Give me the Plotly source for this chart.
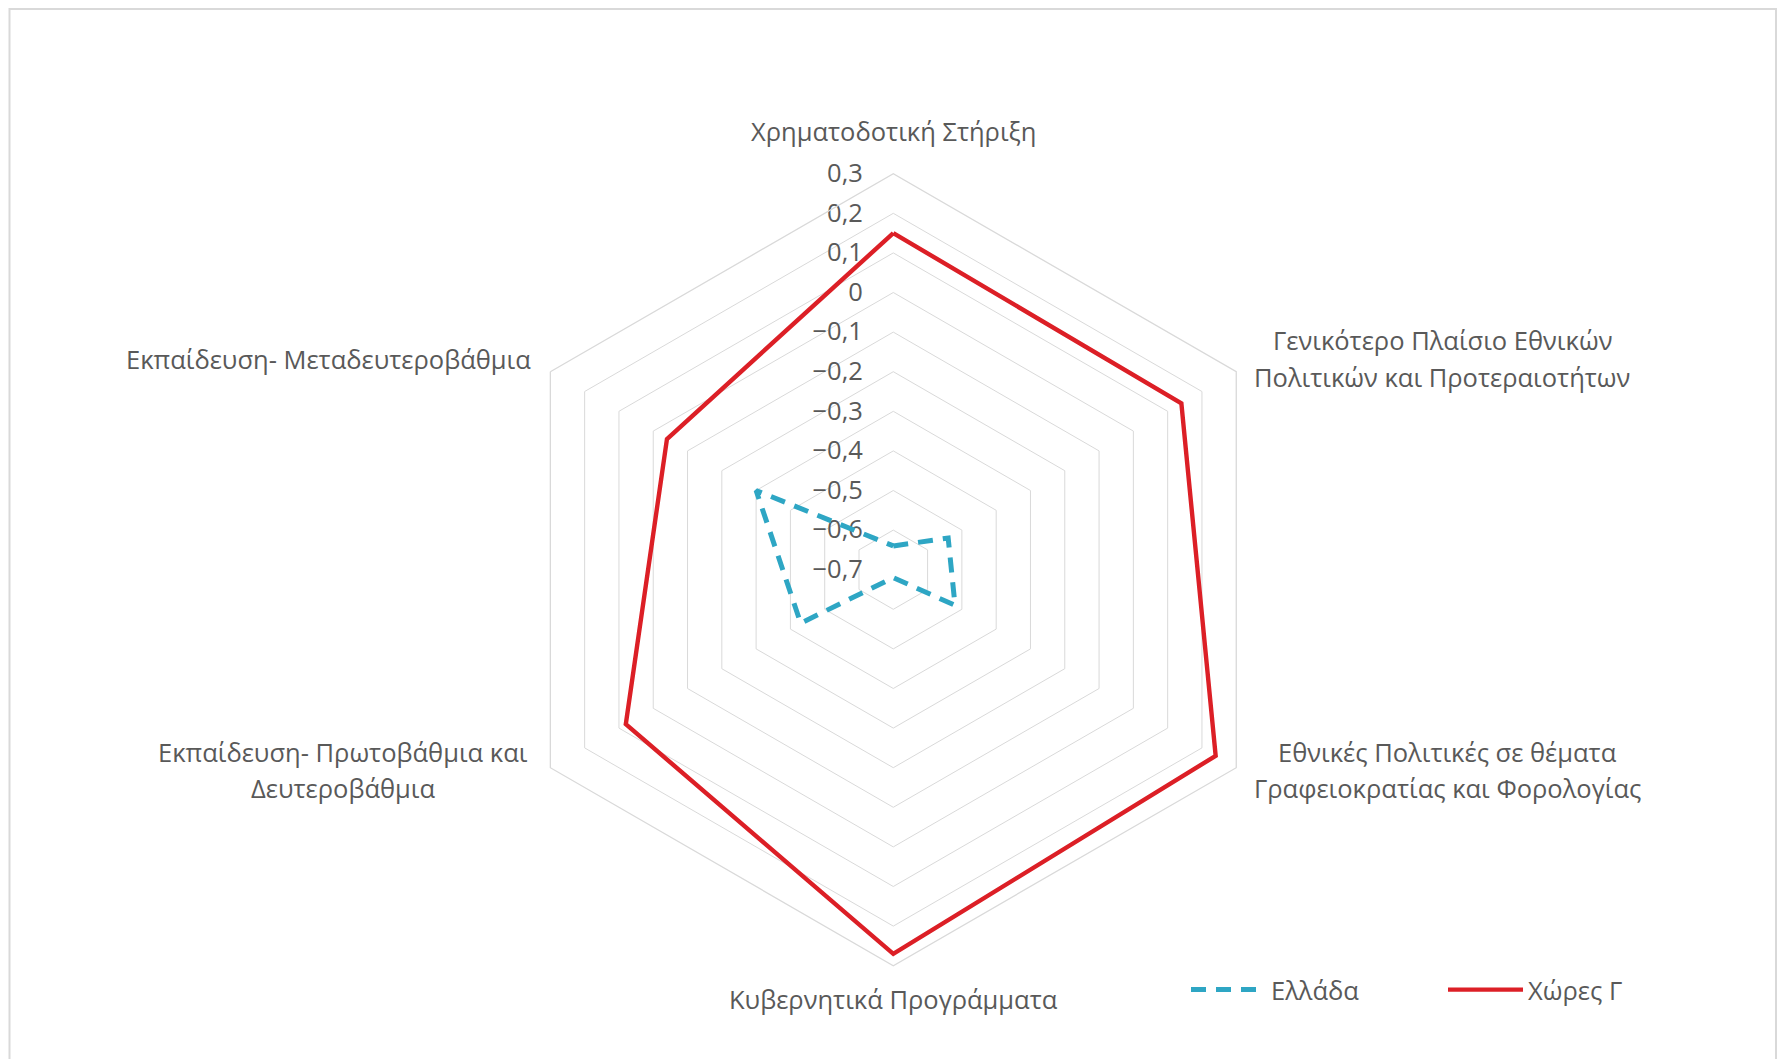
import plotly.graph_objects as go

categories = [
    "Χρηματοδοτική Στήριξη",
    "Γενικότερο Πλαίσιο Εθνικών<br>Πολιτικών και Προτεραιοτήτων",
    "Εθνικές Πολιτικές σε θέματα<br>Γραφειοκρατίας και Φορολογίας",
    "Κυβερνητικά Προγράμματα",
    "Εκπαίδευση- Πρωτοβάθμια και<br>Δευτεροβάθμια",
    "Εκπαίδευση- Μεταδευτεροβάθμια",
]
greece = [-0.64, -0.54, -0.52, -0.68, -0.43, -0.30]
countries_g = [0.15, 0.14, 0.24, 0.27, 0.08, -0.04]
series_names = ["Ελλάδα", "Χώρες Γ"]

# page has an 8px body margin: work in page pixels, convert to figure pixels
OFF = 8
W, H = 1785 - OFF, 1059 - OFF
cx, cy, R = 893.3 - OFF, 569.7 - OFF, 396.0


def px(x):
    return (x - OFF) / W


def py(y):
    return 1 - (y - OFF) / H


FONT = "Open Sans"
TXT = "#595959"
FS = 25.5

fig = go.Figure()
theta = categories + [categories[0]]
fig.add_trace(go.Scatterpolar(
    r=greece + [greece[0]], theta=theta, mode="lines", name=series_names[0],
    line=dict(color="#2ea6c4", width=5, dash="15px,10px"),
))
fig.add_trace(go.Scatterpolar(
    r=countries_g + [countries_g[0]], theta=theta, mode="lines", name=series_names[1],
    line=dict(color="#dc1f26", width=4.4),
))

fig.update_layout(
    width=W, height=H,
    margin=dict(l=0, r=0, t=0, b=0),
    paper_bgcolor="white", plot_bgcolor="white",
    separators=", ",
    font=dict(family=FONT, size=FS, color=TXT),
    polar=dict(
        domain=dict(x=[(cx - R) / W, (cx + R) / W], y=[1 - (cy + R) / H, 1 - (cy - R) / H]),
        bgcolor="white",
        gridshape="linear",
        angularaxis=dict(
            type="category", categoryarray=categories,
            rotation=90, direction="clockwise",
            showticklabels=False, showgrid=False, ticks="",
            showline=True, linecolor="#d9d9d9", linewidth=1.3,
        ),
        radialaxis=dict(
            range=[-0.7, 0.3], dtick=0.1, tick0=0,
            angle=90, tickangle=90, side="counterclockwise",
            showline=False, gridcolor="#d9d9d9", gridwidth=1.3,
            ticks="outside", ticklen=21, tickcolor="rgba(0,0,0,0)",
            tickfont=dict(family=FONT, size=FS, color=TXT),
            layer="below traces",
        ),
    ),
    showlegend=True,
    legend=dict(
        orientation="h", x=px(1186), xanchor="left", y=py(990), yanchor="middle",
        font=dict(family=FONT, size=FS, color=TXT),
        itemwidth=75, entrywidth=167, bgcolor="rgba(0,0,0,0)",
    ),
)

# category labels (Excel-style placement), page pixel coordinates of label centre
label_pos = [
    (893.6, 131),
    (1442, 358.6),
    (1447, 770),
    (893.6, 999),
    (343, 770),
    (328, 359),
]
LINE_GAP = 36.4
for txt, (x, y) in zip(categories, label_pos):
    lines = txt.split("<br>")
    n = len(lines)
    for i, ln in enumerate(lines):
        yy = y + (i - (n - 1) / 2) * LINE_GAP
        fig.add_annotation(
            x=px(x), y=py(yy), xref="paper", yref="paper", text=ln, showarrow=False,
            xanchor="center", yanchor="middle", align="center",
            font=dict(family=FONT, size=FS, color=TXT),
        )

fig.add_shape(type="rect", xref="paper", yref="paper",
              x0=px(9.5), x1=px(1776), y0=-0.02, y1=1 - 1 / H,
              line=dict(color="#d9d9d9", width=2), fillcolor="rgba(0,0,0,0)")

fig.write_html("out.html")
